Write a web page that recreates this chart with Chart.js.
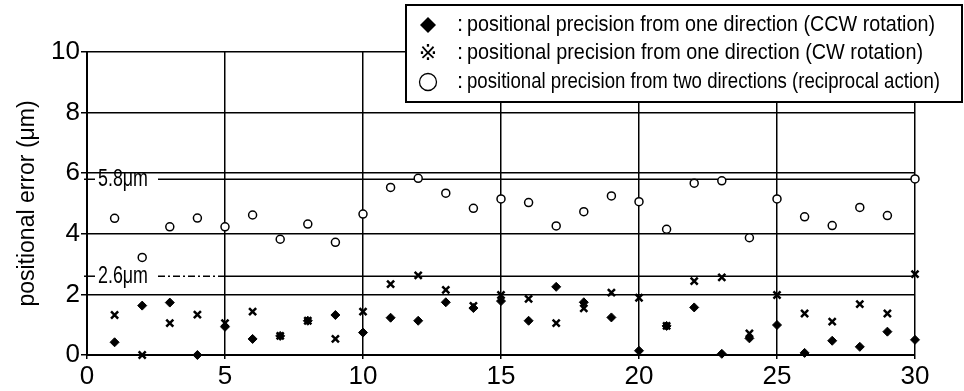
<!DOCTYPE html>
<html>
<head>
<meta charset="utf-8">
<script src="https://cdn.jsdelivr.net/npm/chart.js@4/dist/chart.umd.min.js"></script>
<style>
  html, body { margin: 0; padding: 0; background: #fff; }
  #wrap { width: 964px; height: 391px; }
</style>
</head>
<body>
<div id="wrap"><canvas id="chart" width="964" height="391"></canvas></div>
<script>
  // positions 1..30
  var positions = [1, 2, 3, 4, 5, 6, 7, 8, 9, 10, 11, 12, 13, 14, 15,
    16, 17, 18, 19, 20, 21, 22, 23, 24, 25, 26, 27, 28, 29, 30];

  // one direction, CCW rotation (filled diamonds)
  var ccwValues = [0.42, 1.63, 1.73, 0.0, 0.93, 0.53, 0.63, 1.13, 1.32, 0.74,
    1.23, 1.13, 1.74, 1.55, 1.78, 1.13, 2.25, 1.74, 1.24, 0.14,
    0.96, 1.57, 0.04, 0.55, 0.99, 0.07, 0.47, 0.27, 0.77, 0.5];

  // one direction, CW rotation (crosses)
  var cwValues = [1.32, 0.0, 1.05, 1.33, 1.05, 1.43, 0.63, 1.13, 0.53, 1.43,
    2.34, 2.63, 2.15, 1.62, 1.98, 1.85, 1.05, 1.54, 2.06, 1.89,
    0.96, 2.44, 2.56, 0.71, 1.98, 1.37, 1.1, 1.68, 1.37, 2.67];

  // two directions, reciprocal action (open circles)
  var twoDirValues = [4.51, 3.22, 4.23, 4.52, 4.23, 4.62, 3.82, 4.32, 3.72, 4.65,
    5.53, 5.83, 5.34, 4.84, 5.15, 5.03, 4.26, 4.73, 5.25, 5.06,
    4.15, 5.67, 5.75, 3.87, 5.15, 4.56, 4.27, 4.87, 4.6, 5.81];

  var seriesNames = [
    'positional precision from one direction (CCW rotation)',
    'positional precision from one direction (CW rotation)',
    'positional precision from two directions (reciprocal action)'
  ];

  var refValues = [5.8, 2.6];
  var refLabels = ['5.8\u03bcm', '2.6\u03bcm'];

  var FONT = '"Liberation Sans", Arial, sans-serif';

  function pts(values) {
    return values.map(function (v, i) { return { x: positions[i], y: v }; });
  }

  // draw text squeezed horizontally to a given width (narrow typeface look)
  function narrowText(ctx, text, x, y, width) {
    var w = ctx.measureText(text).width;
    ctx.save();
    ctx.translate(x, y);
    ctx.scale(width / w, 1);
    ctx.fillText(text, 0, 0);
    ctx.restore();
  }

  /* ── reference lines (5.8 / 2.6) ── */
  var refLinesPlugin = {
    id: 'refLines',
    beforeDatasetsDraw: function (chart) {
      var ctx = chart.ctx;
      var xs = chart.scales.x;
      var ys = chart.scales.y;
      var area = chart.chartArea;
      ctx.save();
      ctx.font = '23px ' + FONT;
      ctx.fillStyle = '#000';
      ctx.strokeStyle = '#000';
      ctx.lineWidth = 1.5;
      ctx.textBaseline = 'middle';
      refValues.forEach(function (v, i) {
        var y = ys.getPixelForValue(v);
        // small leading dash at the axis
        ctx.beginPath();
        ctx.moveTo(area.left - 3, y);
        ctx.lineTo(area.left + 8, y);
        ctx.stroke();
        var tx = area.left + 11;
        narrowText(ctx, refLabels[i], tx, y, 50);
        var start = tx + 50 + 10;
        if (i === 1) {
          var mid = xs.getPixelForValue(5);
          ctx.setLineDash([7, 3, 2, 3]);
          ctx.beginPath();
          ctx.moveTo(start, y);
          ctx.lineTo(mid, y);
          ctx.stroke();
          ctx.setLineDash([]);
          ctx.beginPath();
          ctx.moveTo(mid, y);
          ctx.lineTo(area.right, y);
          ctx.stroke();
        } else {
          ctx.beginPath();
          ctx.moveTo(start, y);
          ctx.lineTo(area.right, y);
          ctx.stroke();
        }
      });
      ctx.restore();
    }
  };

  /* ── boxed legend in the top right ── */
  var boxLegendPlugin = {
    id: 'boxLegend',
    afterDraw: function (chart) {
      var ctx = chart.ctx;
      var left = 406, top = 5, right = 962, bottom = 102;
      var rows = [25, 53, 82];
      var rowEnds = [935, 923, 940];
      ctx.save();
      ctx.fillStyle = '#fff';
      ctx.fillRect(left, top, right - left, bottom - top);
      ctx.strokeStyle = '#000';
      ctx.lineWidth = 2;
      ctx.strokeRect(left, top, right - left, bottom - top);

      ctx.fillStyle = '#000';
      ctx.textBaseline = 'middle';
      ctx.font = '22px ' + FONT;
      rows.forEach(function (y, i) {
        var mx = 428;
        if (i === 0) {
          ctx.beginPath();
          ctx.moveTo(mx, y - 8);
          ctx.lineTo(mx + 8, y);
          ctx.lineTo(mx, y + 8);
          ctx.lineTo(mx - 8, y);
          ctx.closePath();
          ctx.fill();
        } else if (i === 1) {
          ctx.save();
          ctx.font = '22px "DejaVu Sans", "Noto Sans CJK JP", sans-serif';
          ctx.textAlign = 'center';
          ctx.fillText('\u203b', mx, y + 1);
          ctx.restore();
        } else {
          ctx.lineWidth = 1.3;
          ctx.beginPath();
          ctx.arc(mx, y, 8.5, 0, Math.PI * 2);
          ctx.stroke();
        }
        ctx.textAlign = 'left';
        ctx.fillText(':', 457, y);
        narrowText(ctx, seriesNames[i], 467, y, rowEnds[i] - 467);
      });
      ctx.restore();
    }
  };

  new Chart(document.getElementById('chart').getContext('2d'), {
    type: 'scatter',
    data: {
      datasets: [
        {
          label: seriesNames[0],
          data: pts(ccwValues),
          pointStyle: 'rectRot',
          pointRadius: 4.5,
          backgroundColor: '#000',
          borderColor: '#000',
          borderWidth: 1,
          clip: false
        },
        {
          label: seriesNames[1],
          data: pts(cwValues),
          pointStyle: 'crossRot',
          pointRadius: 5,
          backgroundColor: '#000',
          borderColor: '#000',
          borderWidth: 2.5,
          clip: false
        },
        {
          label: seriesNames[2],
          data: pts(twoDirValues),
          pointStyle: 'circle',
          pointRadius: 4,
          backgroundColor: '#fff',
          borderColor: '#000',
          borderWidth: 1.5,
          clip: false
        }
      ]
    },
    options: {
      responsive: false,
      animation: false,
      layout: { padding: { top: 52, right: 49, left: 0, bottom: 0 } },
      plugins: {
        legend: { display: false },
        tooltip: { enabled: false }
      },
      scales: {
        x: {
          type: 'linear',
          min: 0,
          max: 30,
          ticks: {
            stepSize: 5,
            color: '#000',
            font: { family: FONT, size: 26 },
            padding: 2
          },
          grid: { color: '#000', lineWidth: 1.5, tickLength: 4 },
          border: { color: '#000', width: 2 },
          afterFit: function (s) { s.height = 36; }
        },
        y: {
          min: 0,
          max: 10,
          ticks: {
            stepSize: 1,
            color: '#000',
            font: { family: FONT, size: 26 },
            padding: 1,
            callback: function (v) { return v % 2 === 0 ? v : ''; }
          },
          grid: {
            color: function (c) {
              var v = c.tick && c.tick.value;
              return (v === 7 || v === 9) ? 'rgba(0,0,0,0)' : '#000';
            },
            lineWidth: 1.5,
            tickLength: 6
          },
          border: { color: '#000', width: 2 },
          title: {
            display: true,
            text: 'positional error (\u03bcm)',
            color: '#000',
            font: { family: FONT, size: 23 },
            padding: { top: 14, bottom: 0 }
          },
          afterFit: function (s) { s.width = 87; }
        }
      }
    },
    plugins: [refLinesPlugin, boxLegendPlugin]
  });
</script>
</body>
</html>
